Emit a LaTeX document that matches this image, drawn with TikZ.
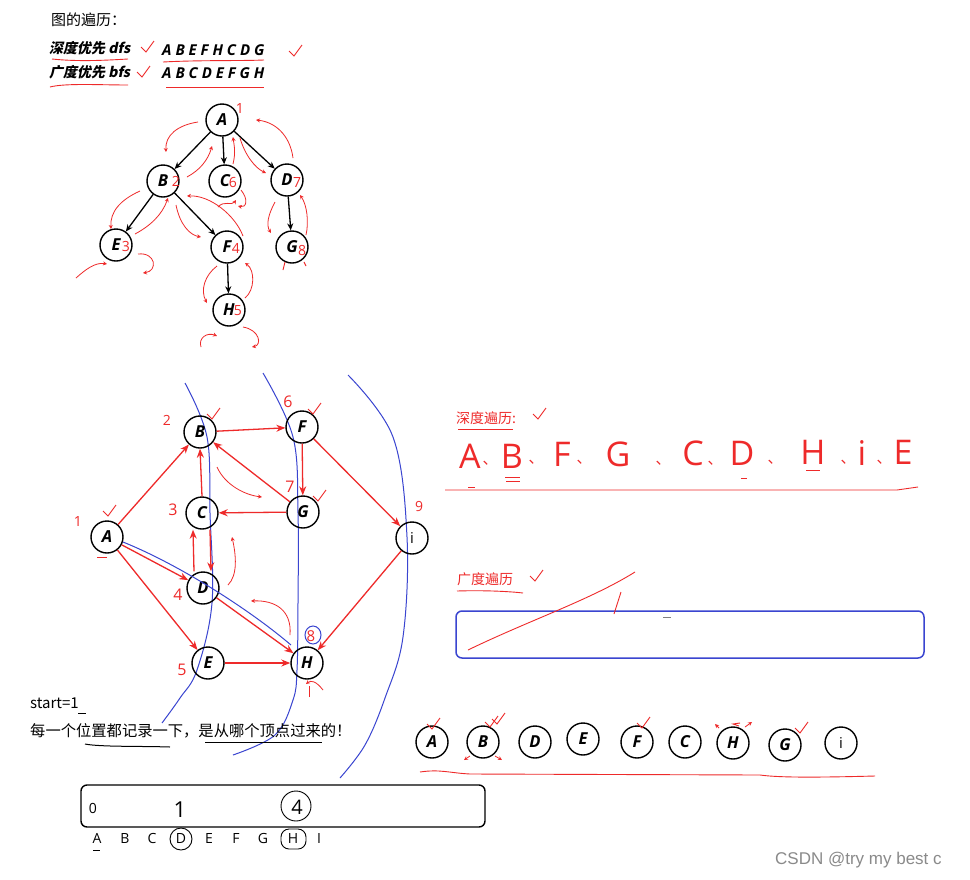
\documentclass[tikz,border=0pt]{standalone}
\usepackage{fontspec}
\setmainfont{Open Sans}
\newfontfamily\cjk{Noto Sans CJK SC}
\newfontfamily\cjki[FakeSlant=0.2]{Noto Sans CJK SC}
\newfontfamily\lat{Open Sans}
\newfontfamily\wm{Liberation Sans}
\usetikzlibrary{arrows.meta}
\definecolor{hred}{HTML}{EE2A2A}
\definecolor{hblue}{HTML}{3A45D0}
\definecolor{wmgray}{HTML}{8A8A8A}
\tikzset{
  gnode/.style={circle, draw=black, line width=1.4pt, minimum size=32pt, inner sep=0pt,
    font=\lat\bfseries\itshape\fontsize{16.5}{16.5}\selectfont},
  tarrow/.style={-{Stealth[length=7pt,width=6pt]}, line width=1.3pt, black},
  rarrow/.style={-{Stealth[length=9pt,width=7pt]}, line width=1.3pt, hred},
  rsq/.style={hred, line width=0.8pt, -{Stealth[length=4pt,width=4pt]}},
  rline/.style={hred, line width=0.9pt},
  bline/.style={hblue, line width=1pt},
  rnum/.style={text=hred, inner sep=0pt, font=\lat\fontsize{14}{14}\selectfont},
  hand/.style={text=hred, inner sep=0pt, font=\lat\fontsize{34}{34}\selectfont},
  handsep/.style={text=hred, inner sep=0pt, font=\cjk\fontsize{15}{15}\selectfont},
  chk/.pic={\draw[hred,line width=0.9pt] (-5,-1) -- (0,4) -- (8,-7);},
  lbl/.style={inner sep=0pt, font=\lat\fontsize{14}{14}\selectfont}
}
\begin{document}
\begin{tikzpicture}[x=1pt,y=-1pt]
\useasboundingbox (0,0) rectangle (970,879);
\fill[white] (0,0) rectangle (970,879);

% ---------- header ----------
\node[anchor=west, inner sep=0pt, font=\cjk\fontsize{15}{15}\selectfont] (title) at (51,20) {图的遍历：};
\node[anchor=west, inner sep=0pt, font=\cjki\bfseries\fontsize{14}{14}\selectfont] (dfs) at (49,48) {深度优先 dfs};
\node[anchor=west, inner sep=0pt, font=\lat\bfseries\itshape\fontsize{15}{15}\selectfont] (dfsseq) at (162,50) {A B E F H C D G};
\node[anchor=west, inner sep=0pt, font=\cjki\bfseries\fontsize{14}{14}\selectfont] (bfs) at (49,72) {广度优先 bfs};
\node[anchor=west, inner sep=0pt, font=\lat\bfseries\itshape\fontsize{15}{15}\selectfont] (bfsseq) at (162,73) {A B C D E F G H};
\pic at (146,48) {chk};
\pic at (294,52) {chk};
\pic at (142,73) {chk};
\draw[rline] (52,59) .. controls (80,62) and (110,60) .. (128,59);
\draw[rline] (163,62) .. controls (200,60) and (240,61) .. (264,60);
\draw[rline] (50,87) .. controls (65,83) and (100,85) .. (128,85);
\draw[rline] (166,87) -- (264,87);

% ---------- tree ----------
\node[gnode] (tA) at (222,120) {A};
\node[gnode] (tB) at (163,181) {B\hspace{7pt}};
\node[gnode] (tC) at (225,181) {C\hspace{7pt}};
\node[gnode] (tD) at (287,180) {D\hspace{7pt}};
\node[gnode] (tE) at (116,245) {E\hspace{7pt}};
\node[gnode] (tF) at (227,247) {F\hspace{7pt}};
\node[gnode] (tG) at (292,247) {G\hspace{8pt}};
\node[gnode] (tH) at (229,310) {H\hspace{7pt}};
\draw[tarrow] (tA) -- (tB);
\draw[tarrow] (tA) -- (tC);
\draw[tarrow] (tA) -- (tD);
\draw[tarrow] (tB) -- (tE);
\draw[tarrow] (tB) -- (tF);
\draw[tarrow] (tD) -- (tG);
\draw[tarrow] (tF) -- (tH);
\node[rnum] at (240,108) {1};
\node[rnum] at (176,181) {2};
\node[rnum] at (233,182) {6};
\node[rnum] at (297,182) {7};
\node[rnum] at (126,246) {3};
\node[rnum] at (236,248) {4};
\node[rnum] at (302,250) {8};
\node[rnum] at (238,311) {5};
% traversal squiggles
\draw[rsq] (198,122) .. controls (178,125) and (165,135) .. (166,152);
\draw[rsq] (187,177) .. controls (200,170) and (208,160) .. (212,146);
\draw[rsq] (233,164) .. controls (236,152) and (234,145) .. (233,137);
\draw[rsq] (240,138) .. controls (245,155) and (255,168) .. (266,173);
\draw[rsq] (293,158) .. controls (290,135) and (275,122) .. (256,120);
\draw[rsq] (140,191) .. controls (120,200) and (110,212) .. (111,229);
\draw[rsq] (135,234) .. controls (150,226) and (162,215) .. (168,198);
\draw[rsq] (176,205) .. controls (180,225) and (190,235) .. (201,237);
\draw[rsq] (243,236) .. controls (235,215) and (210,195) .. (187,196);
\draw[rsq] (217,266) .. controls (205,275) and (200,290) .. (207,303);
\draw[rsq] (245,298) .. controls (255,290) and (255,270) .. (245,263);
\draw[rsq] (275,202) .. controls (268,215) and (266,225) .. (271,233);
\draw[rsq] (306,235) .. controls (309,222) and (307,205) .. (300,195);
\draw[rsq] (76,278) .. controls (85,270) and (95,262) .. (107,264);
\draw[rsq] (138,254) .. controls (156,252) and (158,271) .. (143,273);
\draw[rsq] (201,347) .. controls (198,338) and (207,332) .. (217,336);
\draw[rsq] (243,327) .. controls (260,330) and (262,345) .. (252,347);
\draw[rsq] (218,207) .. controls (224,200) and (232,206) .. (236,200);
\draw[rsq] (241,190) .. controls (249,200) and (246,208) .. (238,206);
\draw[rline] (285,262) -- (283,270);
\draw[rline] (304,262) -- (306,266);

% ---------- graph 2 ----------
\draw[bline] plot[smooth, tension=0.6] coordinates {(185,383) (207,437) (210,513) (212,603) (197,670) (180,698) (162,723)};
\draw[bline] plot[smooth, tension=0.6] coordinates {(263,373) (293,437) (298,513) (298,603) (297,670) (293,700) (275,735) (233,755)};
\draw[bline] plot[smooth, tension=0.6] coordinates {(348,375) (393,437) (407,537) (403,637) (385,698) (365,745) (340,778)};

\node[gnode] (gB) at (200,432) {B};
\node[gnode] (gF) at (302,427) {F};
\node[gnode] (gC) at (202,513) {C};
\node[gnode] (gG) at (303,512) {G};
\node[gnode] (gA) at (107,537) {A};
\node[gnode, font=\lat\fontsize{15}{15}\selectfont] (gI) at (412,538) {i};
\node[gnode] (gD) at (203,588) {D};
\node[gnode] (gE) at (208,663) {E};
\node[gnode] (gH) at (307,663) {H};

\draw[rarrow] (gA) -- (gB);
\draw[rarrow] (gC.north) -- (gB.south);
\draw[rarrow] (gG) -- (gB);
\draw[rarrow] (gB) -- (gF);
\draw[rarrow] (gF) -- (gG);
\draw[rarrow] (gF) -- (gI);
\draw[rarrow] (gG) -- (gC);
\draw[rarrow] ([xshift=-9pt]gD.north) -- ([xshift=-9pt]gC.south);
\draw[rarrow] ([xshift=8pt]gC.south) -- ([xshift=8pt]gD.north);
\draw[rarrow] (gA) -- (gD);
\draw[rarrow] (gA) -- (gE);
\draw[rarrow] (gD) -- (gH);
\draw[rarrow] (gE) -- (gH);
\draw[rarrow] (gI) -- (gH);
\draw[bline] (123,542) .. controls (180,565) and (250,610) .. (291,645);
\draw[bline] (313,635) ellipse [x radius=8, y radius=9];

\node[rnum] at (78,521) {1};
\node[rnum] at (167,420) {2};
\node[rnum, font=\lat\fontsize{16}{16}\selectfont] at (173,510) {3};
\node[rnum, font=\lat\fontsize{16}{16}\selectfont] at (178,595) {4};
\node[rnum, font=\lat\fontsize{16}{16}\selectfont] at (182,670) {5};
\node[rnum, font=\lat\fontsize{16}{16}\selectfont] at (288,402) {6};
\node[rnum, font=\lat\fontsize{16}{16}\selectfont] at (290,487) {7};
\node[rnum, font=\lat\fontsize{15}{15}\selectfont] at (311,636) {8};
\node[rnum, font=\lat\fontsize{14}{14}\selectfont] at (419,506) {9};
\pic at (108,512) {chk};
\pic at (212,415) {chk};
\pic at (313,410) {chk};
\pic at (318,497) {chk};
\draw[rline] (97,557) -- (107,557);
\draw[rsq] (217,467) .. controls (225,485) and (245,495) .. (262,497);
\draw[rsq] (228,585) .. controls (238,575) and (236,555) .. (232,537);
\draw[rsq] (290,635) .. controls (292,610) and (275,600) .. (251,601);
\draw[rsq] (323,690) .. controls (316,681) and (311,680) .. (306,684);
\draw[rline] (309,697) -- (309,686);

% ---------- right side ----------
\node[anchor=west, inner sep=0pt, text=hred, font=\cjk\fontsize{14}{14}\selectfont] (dfst) at (456,418) {深度遍历:};
\pic at (538,415) {chk};
\draw[rline] (458,429) -- (513,429);
\node[hand] (s1) at (470,456) {A};
\node[handsep] at (490,463) {、};
\node[hand] (s2) at (512,456) {B};
\node[handsep] at (536,462) {、};
\node[hand] (s3) at (562,454) {F};
\node[handsep] at (584,462) {、};
\node[hand] (s4) at (618,454) {G};
\node[handsep] at (663,463) {、};
\node[hand] (s5) at (693,453) {C};
\node[handsep] at (715,463) {、};
\node[hand] (s6) at (742,453) {D};
\node[handsep] at (775,462) {、};
\node[hand] (s7) at (813,452) {H};
\node[handsep] at (848,462) {、};
\node[hand] (s8) at (862,453) {i};
\node[handsep] at (884,462) {、};
\node[hand] (s9) at (903,452) {E};
\draw[rline] (468,487) -- (475,487);
\draw[rline] (505,477) -- (520,477);
\draw[rline] (506,481) -- (520,481);
\draw[rline] (741,478) -- (747,478);
\draw[rline] (806,470) -- (820,470);
\draw[rline] (445,490) -- (897,490) -- (918,487);

\node[anchor=west, inner sep=0pt, text=hred, font=\cjk\fontsize{14}{14}\selectfont] (bfst) at (457,579) {广度遍历};
\pic at (535,577) {chk};
\draw[rline] (457,591) .. controls (490,590) and (515,592) .. (523,593);
\node[draw=hblue, line width=1.5pt, rounded corners=6pt, minimum width=468pt, minimum height=47pt, inner sep=0pt] (bfsbox) at (690,634.5) {};
\draw[rline] (468,650) .. controls (530,620) and (590,600) .. (635,572);
\draw[rline] (621,592) -- (614,614);
\draw[gray, line width=1pt] (663,617) -- (671,617);

% ---------- bottom left ----------
\node[anchor=west, inner sep=0pt, font=\cjk\fontsize{15}{15}\selectfont] (start) at (30,703) {start=1};
\draw[line width=0.9pt] (78,713) -- (86,713);
\node[anchor=west, inner sep=0pt, font=\cjk\fontsize{15.3}{15.3}\selectfont] (note) at (30,731) {每一个位置都记录一下，是从哪个顶点过来的！};
\draw[line width=1pt] (85,744) .. controls (100,747) and (140,746) .. (170,747);
\draw[line width=1pt] (205,742) -- (322,742);

\node[draw, line width=1.4pt, rounded corners=6pt, minimum width=404pt, minimum height=42pt, inner sep=0pt] (arr) at (283,806) {};
\node[lbl] (v0) at (93,808) {0};
\node[inner sep=0pt, font=\lat\fontsize{22}{22}\selectfont] (v1) at (180,810) {1};
\node[inner sep=0pt, font=\lat\fontsize{20}{20}\selectfont] (v4) at (297,807) {4};
\draw[line width=0.9pt] (296,806) ellipse [x radius=15, y radius=15];
\node[lbl] (lA) at (97,838) {A};
\node[lbl] (lB) at (125,838) {B};
\node[lbl] (lC) at (152,838) {C};
\node[lbl] (lD) at (181,838) {D};
\node[lbl] (lE) at (209,838) {E};
\node[lbl] (lF) at (236,838) {F};
\node[lbl] (lG) at (263,838) {G};
\node[lbl] (lH) at (293,838) {H};
\node[lbl] (lI) at (319,838) {I};
\draw[line width=0.9pt] (93,850) -- (100,850);
\draw[line width=0.9pt] (181,839) circle [radius=11];
\draw[line width=0.9pt, rounded corners=8pt] (281,829) rectangle (306,849);

% ---------- bottom row of circles ----------
\node[gnode] (rA) at (432,742) {A};
\node[gnode] (rB) at (483,742) {B};
\node[gnode] (rD) at (535,742) {D};
\node[gnode] (rE) at (583,739) {E};
\node[gnode] (rF) at (637,742) {F};
\node[gnode] (rC) at (685,742) {C};
\node[gnode] (rH) at (733,743) {H};
\node[gnode] (rG) at (785,745) {G};
\node[gnode, font=\lat\fontsize{15}{15}\selectfont] (rI) at (841,743) {i};
\pic at (432,725) {chk};
\pic at (490,723) {chk};
\pic at (497,720) {chk};
\pic at (642,724) {chk};
\pic at (800,729) {chk};
\draw[rline] (739,726) -- (733,724) -- (740,723);
\draw[rsq] (745,727) -- (752,722);
\draw[rsq] (719,728) -- (715,724);
\draw[rsq] (470,756) -- (464,760);
\draw[rsq] (495,756) -- (502,760);
\draw[rline] (420,772) .. controls (440,769) and (450,773) .. (470,774) -- (760,775) .. controls (775,777) and (800,778) .. (875,776);

% ---------- watermark ----------
\node[anchor=west, inner sep=0pt, text=wmgray, font=\wm\fontsize{17}{17}\selectfont] (wm) at (775,860) {CSDN @try my best c};
\end{tikzpicture}
\end{document}
